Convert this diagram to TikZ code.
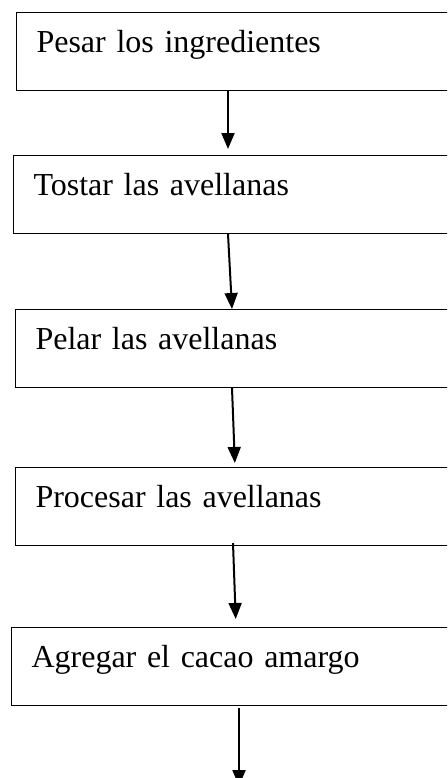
\documentclass[tikz,border=0pt]{standalone}
\usepackage{fontspec}
\setmainfont{Liberation Serif}
\usetikzlibrary{arrows.meta}

\begin{document}
\begin{tikzpicture}[x=0.75pt, y=-0.75pt,
    paso/.style={draw, line width=0.8pt, anchor=north west, inner xsep=15pt, inner ysep=0pt,
        text width=330pt, align=left, text height=30pt, text depth=28.5pt,
        font=\fontsize{24}{28}\selectfont},
    flecha/.style={-{Triangle[width=9.75pt,length=12pt]}, line width=1.5pt}]

    \useasboundingbox (0,0) rectangle (447,778);
    \clip (0,0) rectangle (447,778);

    % Pasos
    \node[paso] (pesar) at (16,12) {Pesar los ingredientes};
    \node[paso] (tostar) at (13,155) {Tostar las avellanas};
    \node[paso] (pelar) at (15,309) {Pelar las avellanas};
    \node[paso] (procesar) at (15,467) {Procesar las avellanas};
    \node[paso] (agregar) at (11,627) {Agregar el cacao amargo};
    \coordinate (fin) at (239,786);

    % Flechas
    \draw[flecha, shorten >=4.5pt] ([xshift=159pt]pesar.south west) -- ([xshift=161.25pt]tostar.north west);
    \draw[flecha] ([xshift=161.25pt]tostar.south west) -- ([xshift=162.75pt]pelar.north west);
    \draw[flecha, shorten >=3pt] ([xshift=162.75pt]pelar.south west) -- ([xshift=165pt]procesar.north west);
    \draw[flecha, shorten >=6pt] ([xshift=163.5pt, yshift=2.25pt]procesar.south west) -- ([xshift=168.75pt]agregar.north west);
    \draw[flecha] ([xshift=171pt, yshift=-1.5pt]agregar.south west) -- (fin);

\end{tikzpicture}
\end{document}
